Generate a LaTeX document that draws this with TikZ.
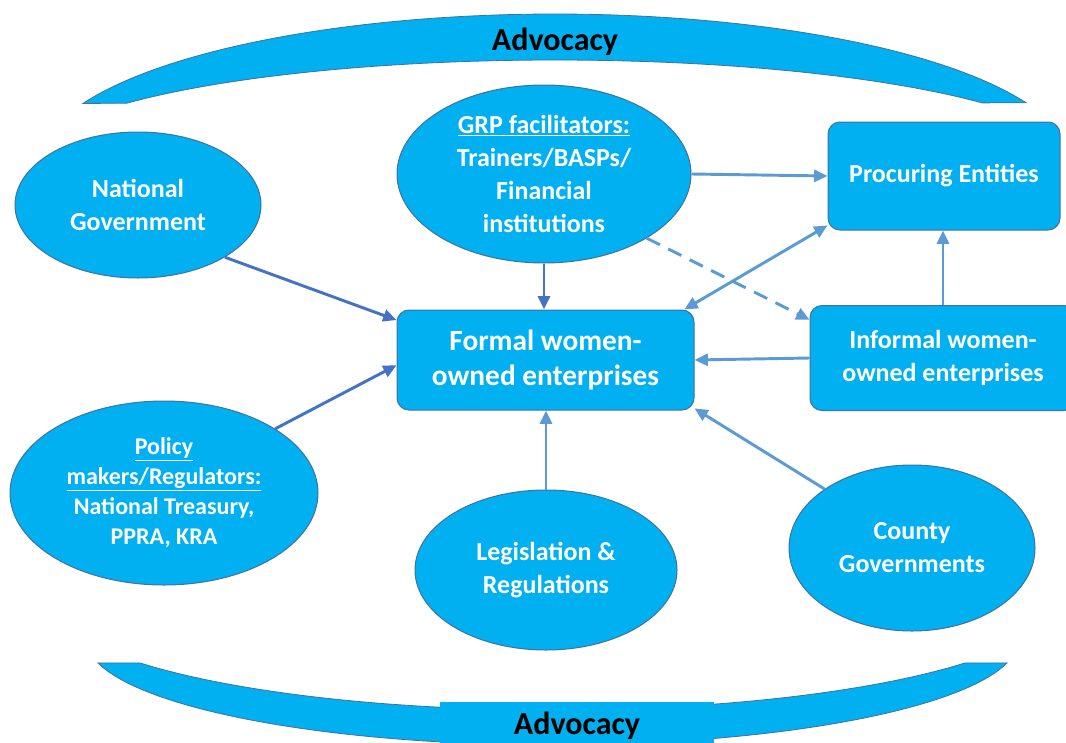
\documentclass[tikz,border=0pt]{standalone}
\usepackage{fontspec}
\setmainfont{Carlito}
\usetikzlibrary{shapes.geometric,arrows.meta}

\definecolor{boxblue}{RGB}{0,176,240}
\definecolor{edgeblue}{RGB}{65,113,156}
\definecolor{darkarrow}{RGB}{68,114,196}
\definecolor{lightarrow}{RGB}{91,155,213}

\begin{document}
\begin{tikzpicture}[x=0.75pt,y=-0.75pt,
        oval/.style={ellipse,draw=edgeblue,line width=0.75pt,fill=boxblue,inner sep=0pt,
                text=white,align=center,font=\bfseries\fontsize{19.5}{24.75}\selectfont},
        block/.style={rectangle,rounded corners=9pt,draw=edgeblue,line width=0.75pt,fill=boxblue,
                text=white,align=center,font=\bfseries\fontsize{19.5}{24.75}\selectfont},
        band/.style={draw=edgeblue,line width=0.6pt,fill=boxblue},
        link/.style={line width=2.2pt,lightarrow,-{Triangle[length=10pt,width=9pt]}},
        darklink/.style={link,darkarrow}]
        \clip (0,0) rectangle (1066,742);

        \filldraw[band] plot[domain=156.2:24.1,samples=80,variable=\t] ({555+516*cos(\t)},{164-150*sin(\t)})
                -- plot[domain=36:144.2,samples=80,variable=\t] ({555+528*cos(\t)},{164-104*sin(\t)}) -- cycle;
        \filldraw[band] plot[domain=167.4:12.6,samples=80,variable=\t] ({552.5+465.8*cos(\t)},{640+105*sin(\t)})
                -- plot[domain=34.9:145.1,samples=80,variable=\t] ({552.5+503*cos(\t)},{600+110*sin(\t)}) -- cycle;

        \node[font=\bfseries\fontsize{24}{28}\selectfont] (advtop) at (555,42) {Advocacy};
        \node[fill=boxblue,minimum width=205.5pt,minimum height=36pt,font=\bfseries\fontsize{24}{28}\selectfont]
                (advbottom) at (577,726) {Advocacy};

        \node[oval,minimum width=184.5pt,minimum height=109.5pt] (natgov) at (138,205) {National\\Government};
        \node[oval,minimum width=231pt,minimum height=138pt,font=\bfseries\fontsize{18}{22.5}\selectfont]
                (policy) at (164,493) {\underline{Policy}\\\underline{makers/Regulators:}\\National Treasury,\\PPRA, KRA};
        \node[oval,minimum width=220.5pt,minimum height=133.5pt] (grp) at (544,174)
                {\underline{GRP facilitators:}\\Trainers/BASPs/\\Financial\\institutions};
        \node[oval,minimum width=196.5pt,minimum height=120pt] (legis) at (546,570) {Legislation \&\\Regulations};
        \node[oval,minimum width=184.5pt,minimum height=124.5pt] (county) at (912,548) {County\\Governments};

        \node[block,minimum width=222.75pt,minimum height=75pt,font=\bfseries\fontsize{22}{26.5}\selectfont]
                (formal) at (545.5,360) {Formal women-\\owned enterprises};
        \node[block,minimum width=174pt,minimum height=81pt] (proc) at (944,176) {Procuring Entities};
        \node[block,minimum width=199.5pt,minimum height=78.75pt] (informal) at (943,358)
                {Informal women-\\owned enterprises};

        \draw[darklink] (natgov.-31) -- (formal.165);
        \draw[darklink] (policy.30) -- (formal.182);
        \draw[darklink] (grp.south) -- (grp.south |- formal.north);
        \draw[link] (grp.east) -- (proc.west);
        \draw[link,dash pattern=on 11pt off 7pt] (grp.-32) -- (informal.164);
        \draw[link,{Triangle[length=10pt,width=9pt]}-{Triangle[length=10pt,width=9pt]}] (formal.20) -- (proc.203);
        \draw[link] (informal.west) -- (formal.east);
        \draw[link] (informal.north) -- (informal.north |- proc.south);
        \draw[link] (legis.north) -- (legis.north |- formal.south);
        \draw[link] (county.146) -- (formal.-18);
    \end{tikzpicture}
\end{document}
